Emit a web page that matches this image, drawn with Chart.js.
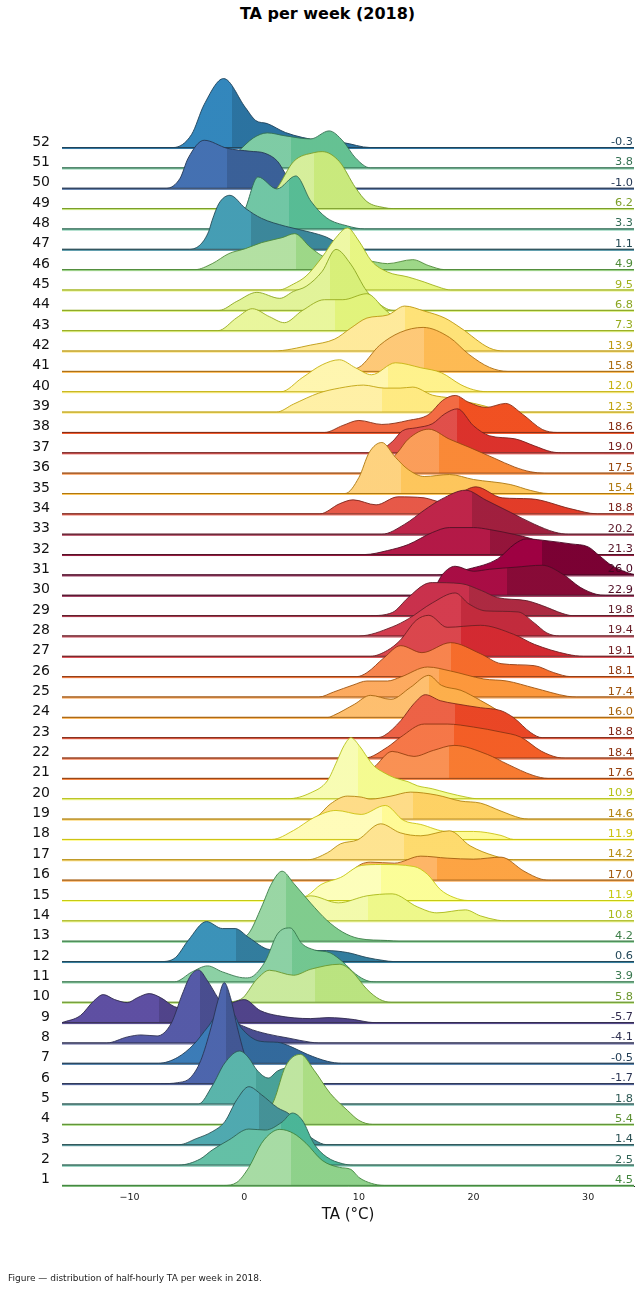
<!DOCTYPE html>
<html>
<head>
<meta charset="utf-8">
<title>TA per week (2018)</title>
<script src="https://cdn.jsdelivr.net/npm/chart.js@4.4.1/dist/chart.umd.min.js"></script>
<style>
  body { margin: 0; background: #fff; font-family: "DejaVu Sans", sans-serif; }
  #wrap { position: relative; width: 639px; height: 1291px; overflow: hidden; }
  #Chart { position: absolute; left: 0; top: 0; }
  #title { position: absolute; left: 0; top: 4px; width: 655px; text-align: center; font-weight: bold; font-size: 16px; color: #000; }
  #note { position: absolute; left: 8px; top: 1273px; font-size: 9px; color: #222; white-space: nowrap; }
</style>
</head>
<body>
<div id="wrap">
  <div id="title">TA per week (2018)</div>
  <canvas id="Chart" width="639" height="1291"></canvas>
  <div id="note">Figure — distribution of half-hourly TA per week in 2018.</div>
</div>
<script>
// week numbers, bottom row first
const weeks = [1,2,3,4,5,6,7,8,9,10,11,12,13,14,15,16,17,18,19,20,21,22,23,24,25,26,
  27,28,29,30,31,32,33,34,35,36,37,38,39,40,41,42,43,44,45,46,47,48,49,50,51,52];

// mean TA per week (right hand labels)
const weekMeans = [4.5,2.5,1.4,5.4,1.8,-1.7,-0.5,-4.1,-5.7,5.8,
  3.9,0.6,4.2,10.8,11.9,17.0,14.2,11.9,14.6,10.9,
  17.6,18.4,18.8,16.0,17.4,18.1,19.1,19.4,19.8,22.9,
  26.0,21.3,20.2,18.8,15.4,17.5,19.0,18.6,12.3,12.0,
  15.8,13.9,7.3,6.8,9.5,4.9,1.1,3.3,6.2,-1.0,3.8,-0.3];

// where the shading of each ridge changes (deg C)
const splitAt = [4.1,3.2,1.25,5.1,1.0,-1.6,-0.6,-3.9,-7.4,6.2,
  4.2,-0.7,3.6,10.8,11.9,16.8,13.9,12.0,14.7,9.9,
  17.9,18.3,18.4,16.1,17.0,18.0,18.9,18.9,19.6,22.95,
  26.0,21.4,19.9,19.5,13.7,17.0,18.6,18.75,12.0,12.5,
  15.7,14.0,7.9,7.5,9.2,4.5,0.6,3.9,6.1,-1.5,4.1,-1.1];

// density outline of each week: [TA, height]
const ridges = [
  [[-1.8,0],[-0.65,3],[0.4,18],[1.5,42],[2.4,53],[3.1,56],[4.3,52],[5.4,42],[6.8,25],[8.3,18],[9.3,16],[10,8],[11.1,2],[12.2,0]],
  [[-5.7,0],[-3.85,6],[-2.8,15],[-1.35,25],[0.4,36],[1.85,35],[3.3,43],[4.2,52],[5.05,45],[6.1,21],[7.2,8],[8.6,1.3],[9.5,0]],
  [[-5.7,0],[-4.2,6],[-2.8,13],[-1.7,23],[-0.65,45],[0.4,58],[1.5,50],[2.9,37],[4,30],[5.05,15],[6.1,5],[7.2,0]],
  [[0.5,0],[1.8,8],[2.6,24],[3.6,58],[4.9,70],[6.1,54],[7.5,31],[9,14],[10,4],[11.2,0]],
  [[-4,0],[-2.8,18],[-1.7,41],[-0.4,53],[0.4,46],[1.1,34],[2.1,26],[2.9,33],[3.8,36],[5,28],[6.5,12],[8,0]],
  [[-7.3,0],[-5.8,1],[-4.7,6],[-3.8,23],[-2.9,56],[-2.3,83],[-1.75,101],[-1.2,86],[-0.6,56],[0,30],[0.6,10],[1.4,1.3],[2,0]],
  [[-7.5,0],[-5.8,6],[-4.4,19],[-3.2,36],[-2,52],[-1,50],[-0.3,36],[1.4,22],[2.9,21],[4,17],[5.5,9],[7.25,2],[8.5,0]],
  [[-12,0],[-10.2,6],[-9,8],[-7.6,7],[-6.4,19],[-5.4,49],[-4.7,67],[-4,73],[-3.2,62],[-2.3,45],[-1.2,25],[0.3,15],[2,9],[3.8,5],[5.8,0.7],[6.5,0]],
  [[-15.9,0],[-14.3,7],[-13.1,22],[-12.3,28],[-11.3,23],[-10.2,20],[-9.3,25],[-8.3,29],[-7.3,25],[-6.1,16],[-4.5,13],[-2.5,14],[-1,20],[0,23],[1.4,12],[2.9,7],[5.8,4],[7.3,5],[9.6,3],[10.8,0.5],[11.5,0]],
  [[-2,0],[-0.3,3],[1.1,23],[2.2,32],[4.3,27],[5.8,33],[8.3,38],[9.3,32],[10.7,13],[11.8,3],[12.8,0]],
  [[-6.1,0],[-4.55,10],[-3.2,16],[-1.9,10],[0.1,4],[0.8,6],[1.85,21],[2.9,48],[4,54],[5.05,38],[6.1,32],[7.5,29],[8.6,20],[9.7,8],[10.7,1.3],[11.5,0]],
  [[-7.3,0],[-6,4],[-4.9,21],[-3.3,40],[-1.9,33],[-0.8,33],[0.4,24],[2.2,12],[4.3,11],[7.2,11],[9,9],[10.7,4],[12.2,1],[13,0]],
  [[-1,0],[0.4,8],[1.5,34],[2.4,58],[3.3,70],[4.3,58],[5.8,38],[7.2,21],[8.6,9],[10,2.7],[12.5,0.7],[13.5,0]],
  [[1,0],[3,8],[4.5,18],[5.8,25],[8.2,18],[10.7,25],[12.9,27],[15.1,14],[16.8,8],[19.3,11],[20.6,5],[22.1,0.7],[22.8,0]],
  [[4,0],[5.5,5],[6.7,16],[8.4,23],[10.2,35],[11.9,36],[14.8,34],[16,26],[17.1,11],[18.3,3],[19.5,0]],
  [[8,0],[9.2,8],[10.2,16],[11,18],[13.1,17],[15.4,24],[17.7,22],[20,21],[22.4,23],[24.4,9],[25.9,1],[26.8,0]],
  [[5.5,0],[7.25,7],[8.4,16],[9.9,20],[11.9,36],[13.6,27],[15.4,24],[17.9,29],[19.7,14],[21.8,4],[23.5,0]],
  [[2.4,0],[4.3,9],[6.1,22],[8,29],[10.2,25],[12.3,34],[13.9,19],[15.4,15],[17.7,8],[20,8],[22.4,4],[23.5,0]],
  [[5.8,0],[6.4,3],[7.5,15],[9,23],[10.2,22],[11,20],[12.8,23],[14.5,27],[16.8,24],[18.9,18],[20.6,16],[22.4,8],[24.1,1],[24.8,0]],
  [[3.8,0],[5.8,6],[7.25,18],[8.1,38],[8.7,53],[9.3,61],[10.1,52],[10.7,42],[11.3,33],[12.2,26],[13.1,21],[14.3,17],[15.1,13],[16.4,10],[17.7,6],[19.5,1.3],[20.3,0]],
  [[9.8,0],[11.3,11],[12.9,27],[14.8,22],[16.5,28],[18.3,33],[21.2,24],[23,14],[25.2,3],[26.5,0]],
  [[10.5,0],[12.5,11],[13.65,21],[15.7,34],[17.7,34],[20,31],[22.4,26],[24.1,21],[25.9,7],[27.3,0.7],[28,0]],
  [[11.5,0],[12.2,2],[13.65,17],[14.8,34],[15.8,43],[17.1,37],[18.4,34],[20.6,30],[22.4,27],[23.5,20],[25,5],[26,0]],
  [[7.3,0],[7.8,2],[9.6,13],[11,22],[12.8,18],[14.5,30],[16.1,42],[17.2,32],[18.9,27],[20.6,17],[22.1,7],[23,0]],
  [[6.5,0],[7.8,5],[9.5,12],[10.7,16],[12.5,16],[13.65,20],[16,30],[18,26],[20.9,18],[22.9,16],[25.3,9],[28.2,0.7],[29,0]],
  [[9.8,0],[10.7,4],[12.2,19],[13.65,31],[15.5,24],[18,34],[20.6,23],[22.4,13],[25.3,11],[27,4],[28.5,0]],
  [[11,0],[12.5,6],[13.6,16],[15,36],[16.1,41],[17.7,29],[20.6,31],[23.5,22],[25.3,12],[28.2,2],[29.6,0]],
  [[10,0],[12.9,9],[14.3,17],[16.4,33],[18.4,43],[19.6,32],[21.1,25],[23.9,24],[25.3,13],[26.4,3],[27.5,0]],
  [[11,0],[12.9,3],[14.3,18],[15.7,31],[16.4,33],[18.9,32],[20.7,25],[22.1,18],[24.6,15],[26,10],[27.8,2],[28.6,0]],
  [[15,0],[16.6,8],[17.3,21],[18.4,29],[20,24],[21.4,26],[23.6,28],[26,30],[27.8,21],[29.3,8],[30.7,1],[31.5,0]],
  [[16.8,0],[19.6,6],[22.1,16],[23.6,31],[24.6,36],[26.5,34],[28.5,31],[30,28],[31,19],[32.1,9],[33.5,2],[34,0.5]],
  [[10.5,0],[12.5,4],[14.3,10],[16.4,22],[17.9,27],[20,27],[21.4,25],[23.6,20],[25,16],[26.8,8],[28.5,2],[29.8,0]],
  [[12,0],[14,10],[15.7,24],[17.2,35],[19.3,44],[21.1,34],[23.2,22],[25.3,10],[27.1,2],[28.3,0]],
  [[6.6,0],[8.3,10],[9.5,14],[11.5,9],[13.4,17],[15.7,16],[17.2,12],[18.7,20],[20.2,27],[22.5,16],[25,15],[28.5,5],[30.8,0]],
  [[8.8,0],[10,16],[10.9,41],[12,51],[13.2,36],[14.3,24],[15.7,17],[17.9,19],[20,14],[23.2,9],[25,3],[26.5,0]],
  [[11,0],[12.3,8],[13.4,21],[14.3,34],[16.1,44],[17.9,34],[19.6,26],[21.8,15],[23.6,6],[25,1.3],[26.2,0]],
  [[11.3,0],[12.9,11],[13.8,22],[15,25],[16.4,29],[17.5,39],[18.6,44],[20,27],[21.4,17],[23.6,14],[25.3,7],[26.8,1],[28,0]],
  [[7,0],[8.6,7],[10,12],[12,8],[14.3,12],[16.1,18],[17.3,32],[18.4,37],[19.6,30],[21.1,25],[22.8,29],[24.3,18],[26,3],[27.3,0]],
  [[2.8,0],[4.3,8],[6.5,19],[8.3,24],[10.4,27],[12.2,24],[13.6,24],[14.7,25],[16.4,17],[18,14],[19.5,10],[21,6],[22.5,0]],
  [[3.2,0],[5.05,14],[6.8,27],[8.3,32],[9.7,24],[11.1,17],[13.2,29],[15.4,24],[17.2,19],[18.9,7],[20,2],[21.2,0]],
  [[8,0],[10,4],[11.8,26],[13.6,39],[15.6,44],[17.9,34],[19.6,17],[21.4,4],[23,0]],
  [[2.5,0],[5.8,6],[7.9,12],[9.3,23],[10.7,33],[12.5,36],[14,45],[15.7,40],[17.5,33],[18.9,23],[21.4,3],[22.7,0]],
  [[-2.3,0],[-0.65,13],[0.7,22],[2.2,14],[3.5,8],[5.05,20],[7,31],[8.6,31],[10.7,37],[12.2,22],[13.6,8],[14.8,0]],
  [[-2.2,0],[-0.65,9],[1.1,18],[3.1,12],[4.3,19],[5.4,24],[6.8,39],[8,61],[9.3,46],[10.7,19],[12.2,3],[13,0]],
  [[3,0],[4.3,6],[5.4,14],[6.8,33],[7.9,51],[9,62],[10,49],[11.1,29],[12.5,18],[14.3,13],[15.7,8],[17.2,2],[18,0]],
  [[-4.3,0],[-2.8,6],[-1.35,16],[0.1,21],[1.5,27],[3.3,32],[4.4,36],[5.8,22],[7.2,12],[10.7,9],[12.5,6],[14.7,10],[16.1,4],[17.5,0]],
  [[-4.8,0],[-3.8,5],[-3.1,18],[-2.8,29],[-2.2,46],[-1.25,54],[0.1,41],[1.5,31],[3.6,23],[5.8,17],[7.2,12],[8.3,5],[9.7,0]],
  [[-2.5,0],[-1,4],[0,18],[1.2,52],[2.85,40],[4.5,53],[5.8,28],[7.2,11],[9,3],[10.5,0]],
  [[0.5,0],[1.8,6],[2.9,21],[4.3,47],[6.1,56],[6.8,57],[8.3,47],[9.7,21],[10.7,7],[12.2,1],[13,0]],
  [[-6.8,0],[-5.6,10],[-4.9,30],[-3.5,48],[-1.5,40],[0.5,37],[1.8,35],[2.9,27],[3.7,13],[4.8,3],[6,0]],
  [[-4,0],[-2,4],[-0.5,17],[0.8,30],[2,35],[3.6,32],[5.8,29],[7.4,37],[8.6,27],[9.7,10],[11,0]],
  [[-6.2,0],[-4.6,13],[-3.5,43],[-1.8,69],[0.1,40],[1,27],[2,24],[3.6,15],[6.5,7],[8.6,5],[11,0]]
];

const xTicks = [-10, 0, 10, 20, 30];
const xMin = -15.9, xMax = 34.0;
const rowStep = 20.35;

// colours: Spectral (reversed) by rank of the weekly mean
const spectral = ['#9e0142','#d53e4f','#f46d43','#fdae61','#fee08b','#ffffbf','#e6f598','#abdda4','#66c2a5','#3288bd','#5e4fa2'];

function hexRgb(h) {
  return [parseInt(h.substr(1,2),16), parseInt(h.substr(3,2),16), parseInt(h.substr(5,2),16)];
}
function spectralR(t) {
  let s = (1 - t) * 10;
  let i = Math.min(9, Math.floor(s));
  let f = s - i;
  let a = hexRgb(spectral[i]), b = hexRgb(spectral[i + 1]);
  return a.map((v, k) => v + (b[k] - v) * f);
}
function rgbHsl(c) {
  let r = c[0]/255, g = c[1]/255, b = c[2]/255;
  let mx = Math.max(r,g,b), mn = Math.min(r,g,b);
  let h = 0, s = 0, l = (mx + mn) / 2;
  if (mx !== mn) {
    let d = mx - mn;
    s = l > 0.5 ? d / (2 - mx - mn) : d / (mx + mn);
    if (mx === r) h = (g - b) / d + (g < b ? 6 : 0);
    else if (mx === g) h = (b - r) / d + 2;
    else h = (r - g) / d + 4;
    h /= 6;
  }
  return [h, s, l];
}
function hslCss(h, s, l) {
  l = Math.max(0, Math.min(1, l));
  return 'hsl(' + (h * 360).toFixed(1) + ',' + (s * 100).toFixed(1) + '%,' + (l * 100).toFixed(1) + '%)';
}

const order = weekMeans.map((m, i) => i).sort((a, b) => weekMeans[a] - weekMeans[b] || a - b);
const rank = [];
order.forEach((idx, r) => { rank[idx] = r; });

const fillLight = [], fillDark = [], lineColor = [];
weeks.forEach((w, i) => {
  let hsl = rgbHsl(spectralR(rank[i] / (weeks.length - 1)));
  fillLight.push(hslCss(hsl[0], hsl[1], hsl[2]));
  fillDark.push(hslCss(hsl[0], hsl[1], hsl[2] - 0.07));
  lineColor.push(hslCss(hsl[0], hsl[1] * 0.85, hsl[2] * 0.5));
});

function splitFill(i) {
  return function(context) {
    let chart = context.chart;
    let area = chart.chartArea;
    if (!area) return fillLight[i];
    let px = chart.scales.x.getPixelForValue(splitAt[i]);
    let f = (px - area.left) / (area.right - area.left);
    f = Math.max(0, Math.min(1, f));
    let g = chart.ctx.createLinearGradient(area.left, 0, area.right, 0);
    g.addColorStop(0, fillLight[i]);
    g.addColorStop(f, fillLight[i]);
    g.addColorStop(f, fillDark[i]);
    g.addColorStop(1, fillDark[i]);
    return g;
  };
}

const datasets = weeks.map((w, i) => {
  let base = i * rowStep;
  let pts = ridges[i];
  let data = [];
  if (pts[0][0] > xMin) data.push({x: xMin, y: base});
  pts.forEach(p => data.push({x: p[0], y: base + p[1]}));
  if (pts[pts.length - 1][0] < xMax) data.push({x: xMax, y: base});
  return {
    label: 'Week ' + w,
    data: data,
    fill: {value: base},
    backgroundColor: splitFill(i),
    borderColor: lineColor[i],
    borderWidth: 0.9,
    pointRadius: 0,
    cubicInterpolationMode: 'monotone'
  };
});

// baseline under each ridge, drawn right after that ridge
const ridgeBase = {
  id: 'ridgeBase',
  afterDatasetDraw(chart, args) {
    let i = args.index;
    let c = chart.ctx, a = chart.chartArea;
    let y = chart.scales.y.getPixelForValue(i * rowStep);
    c.save();
    c.lineWidth = 1;
    c.strokeStyle = fillDark[i];
    c.beginPath(); c.moveTo(a.left, y + 1); c.lineTo(a.right, y + 1); c.stroke();
    c.strokeStyle = lineColor[i];
    c.beginPath(); c.moveTo(a.left, y); c.lineTo(a.right, y); c.stroke();
    c.restore();
  },
  afterDatasetsDraw(chart) {
    let c = chart.ctx, a = chart.chartArea;
    c.save();
    weeks.forEach((w, i) => {
      let y = chart.scales.y.getPixelForValue(i * rowStep);
      c.textAlign = 'right';
      c.textBaseline = 'alphabetic';
      c.font = '14px "DejaVu Sans", sans-serif';
      c.fillStyle = '#111';
      c.fillText(String(w), 50, y - 2);
      c.font = '11.3px "DejaVu Sans", sans-serif';
      c.fillStyle = lineColor[i];
      c.fillText(weekMeans[i].toFixed(1), a.right - 1, y - 2.5);
    });
    c.restore();
  }
};

Chart.defaults.font.family = '"DejaVu Sans", sans-serif';

var chart = document.getElementById('Chart').getContext('2d');
const myChart = new Chart(chart, {
  type: 'line',
  data: { datasets: datasets },
  options: {
    responsive: false,
    animation: false,
    layout: { padding: { left: 62, right: 5, top: 35.4, bottom: 64.6 } },
    plugins: {
      legend: { display: false },
      tooltip: { enabled: false }
    },
    scales: {
      x: {
        type: 'linear',
        min: xMin,
        max: xMax,
        z: 1,
        afterBuildTicks: function(scale) {
          scale.ticks = xTicks.map(v => ({ value: v }));
        },
        afterFit: function(scale) { scale.height = 40; },
        grid: { display: false, drawTicks: false },
        border: { display: true, color: '#222', width: 1 },
        ticks: {
          padding: 5,
          maxRotation: 0,
          color: '#222',
          font: { size: 9.5 },
          callback: v => v < 0 ? '\u2212' + Math.abs(v) : String(v)
        },
        title: {
          display: true,
          text: 'TA (°C)',
          color: '#111',
          font: { size: 15 },
          padding: { top: 0, bottom: 2 }
        }
      },
      y: {
        type: 'linear',
        display: false,
        min: -1,
        max: 1150
      }
    }
  },
  plugins: [ridgeBase]
});
</script>
</body>
</html>
